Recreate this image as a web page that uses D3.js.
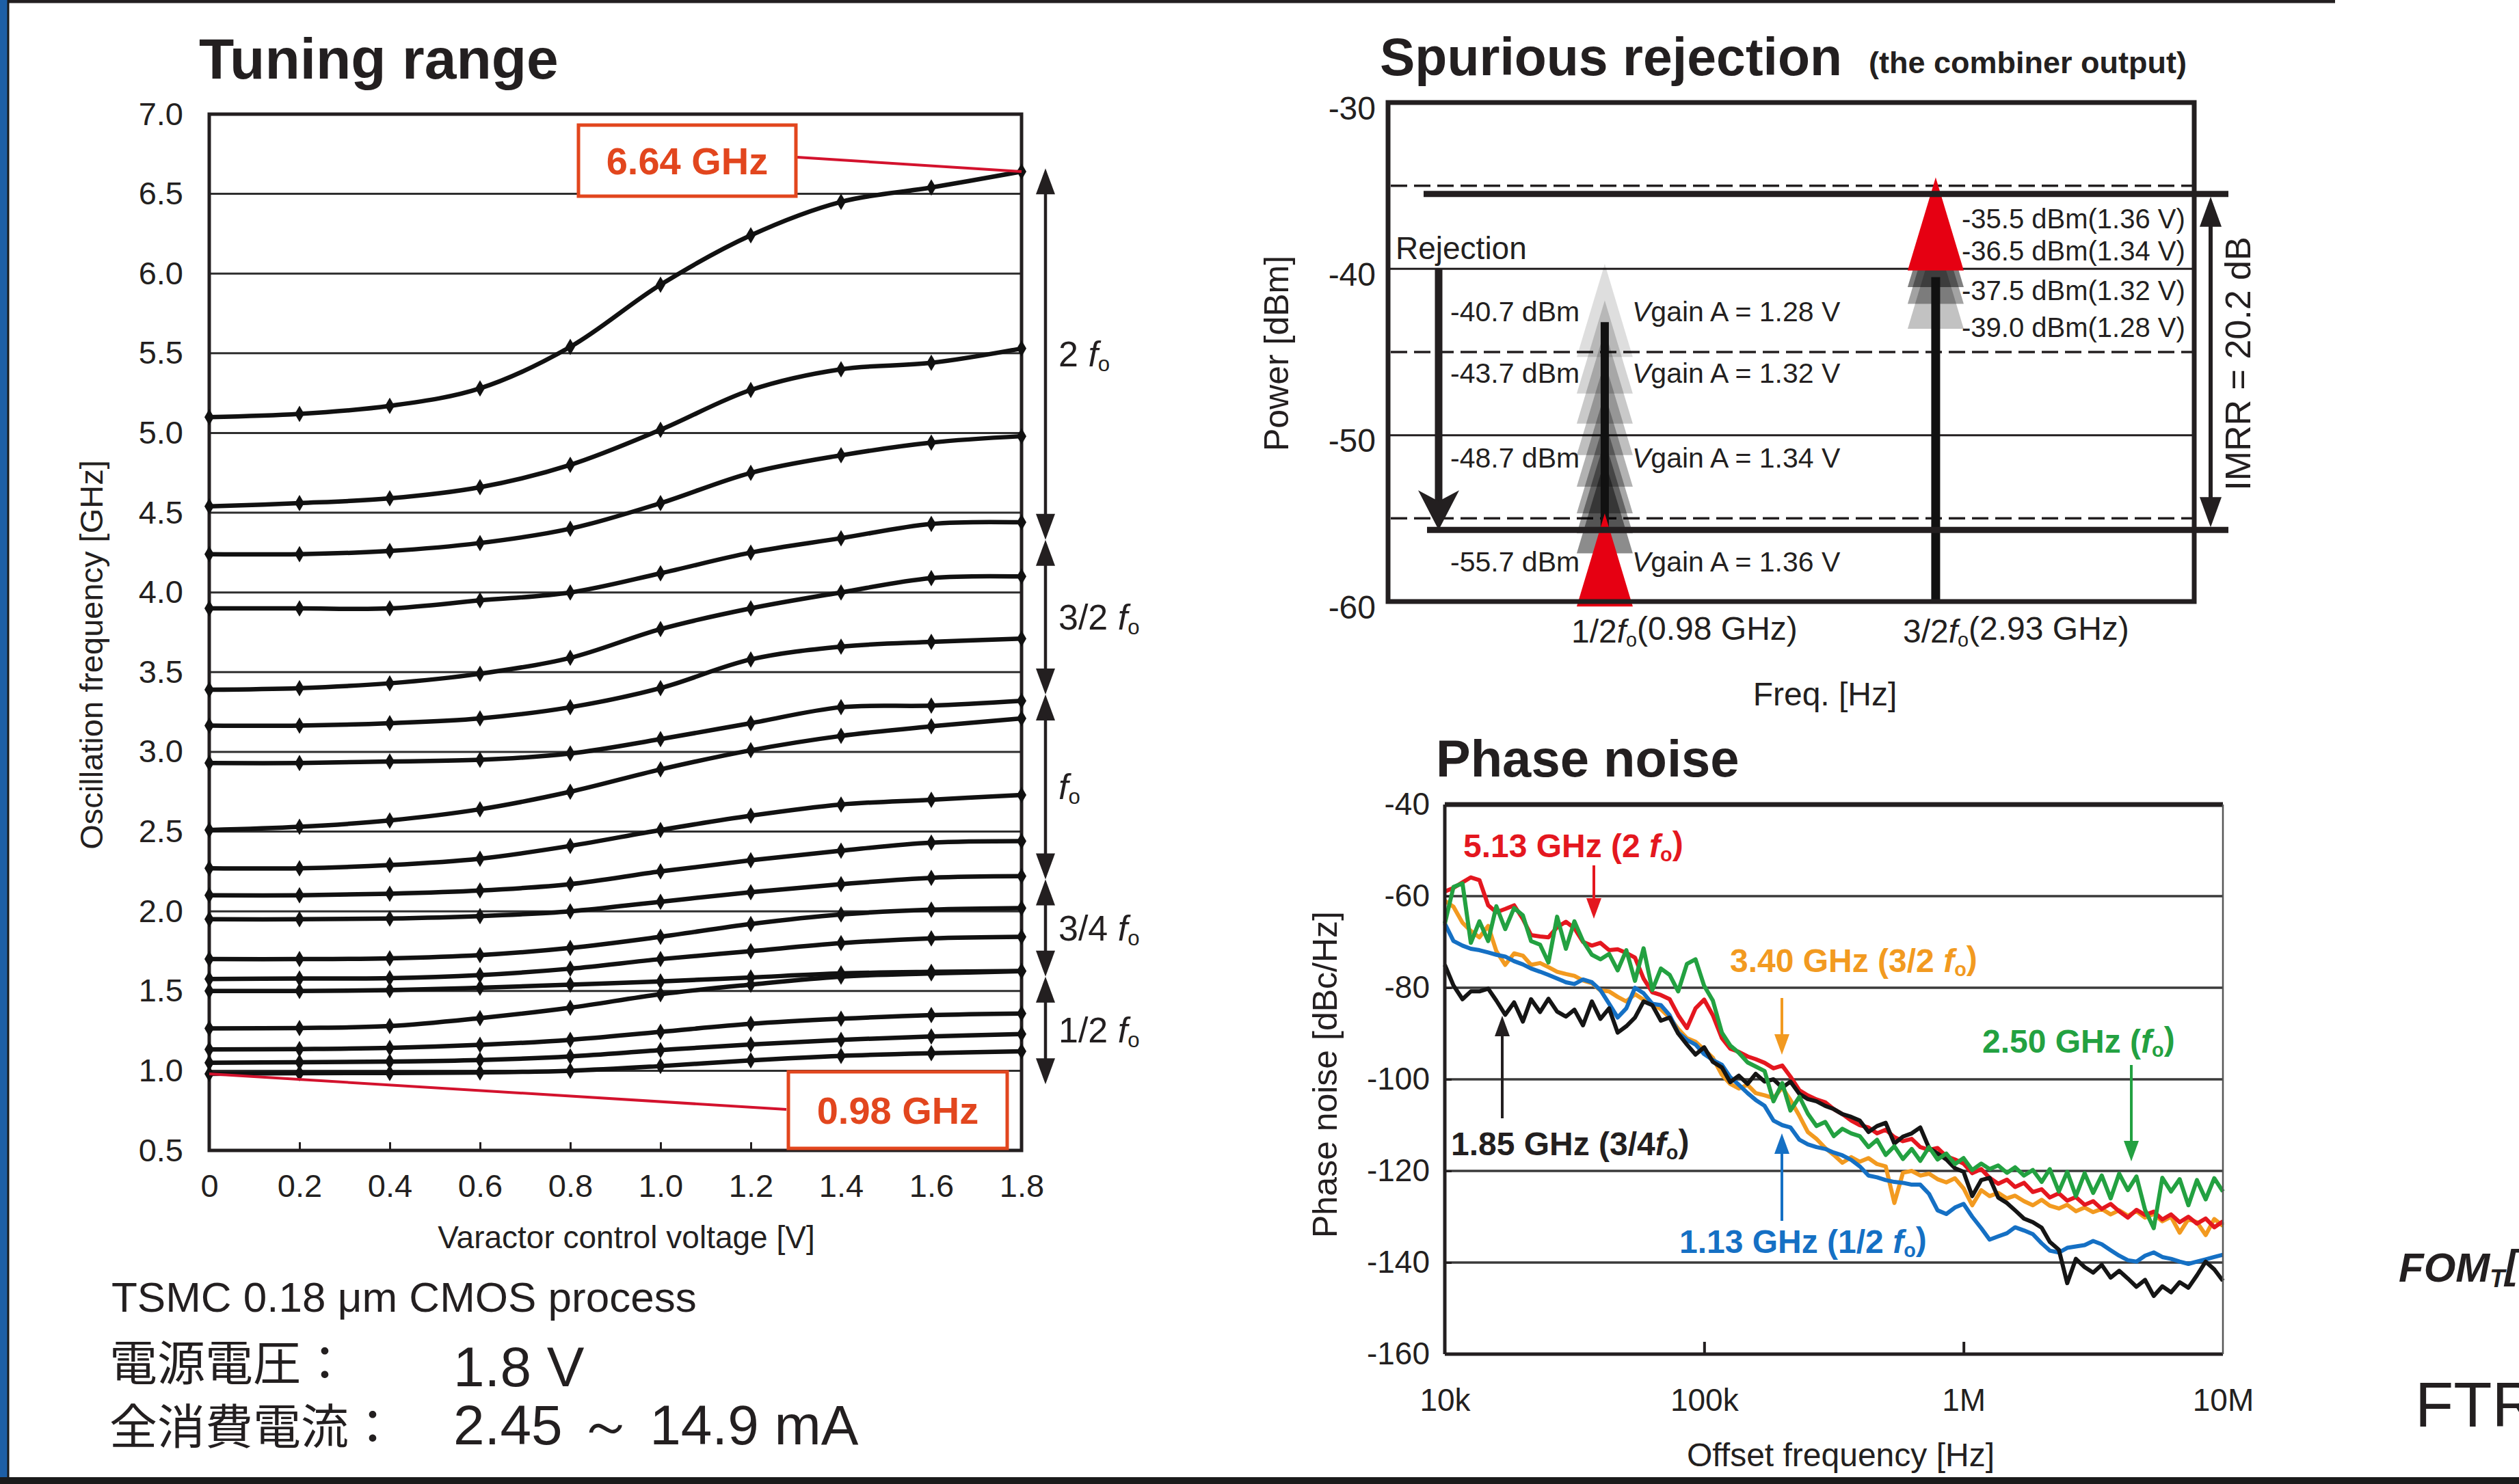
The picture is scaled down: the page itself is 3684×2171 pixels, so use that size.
<!DOCTYPE html>
<html>
<head>
<meta charset="utf-8">
<script src="https://cdn.jsdelivr.net/npm/d3@7"></script>
<style>
  body { margin: 0; background: #fff; }
  svg { display: block; }
  text { font-family: "Liberation Sans", Arial, sans-serif; fill: #231f20; }
</style>
</head>
<body>
<svg id="fig" width="3684" height="2171"></svg>
<script>
// ---------- Tuning range data ----------
const voltages = [0, 0.2, 0.4, 0.6, 0.8, 1.0, 1.2, 1.4, 1.6, 1.8]
const curves2fo = [
  [5.10, 5.12, 5.17, 5.28, 5.54, 5.93, 6.24, 6.45, 6.54, 6.64],
  [4.54, 4.56, 4.59, 4.66, 4.80, 5.02, 5.27, 5.40, 5.44, 5.53],
  [4.24, 4.24, 4.26, 4.31, 4.40, 4.56, 4.75, 4.86, 4.94, 4.98]
]
const curves3_2fo = [
  [3.90, 3.90, 3.90, 3.95, 4.00, 4.12, 4.25, 4.34, 4.43, 4.44],
  [3.39, 3.40, 3.43, 3.49, 3.59, 3.77, 3.90, 4.00, 4.09, 4.10],
  [3.165, 3.165, 3.18, 3.21, 3.28, 3.40, 3.58, 3.66, 3.69, 3.71]
]
const curvesFo = [
  [2.93, 2.93, 2.94, 2.95, 2.99, 3.08, 3.18, 3.28, 3.29, 3.32],
  [2.51, 2.53, 2.57, 2.64, 2.75, 2.89, 3.01, 3.10, 3.16, 3.21],
  [2.27, 2.27, 2.29, 2.33, 2.41, 2.51, 2.60, 2.67, 2.70, 2.73],
  [2.10, 2.10, 2.11, 2.13, 2.17, 2.25, 2.32, 2.38, 2.43, 2.44]
]
const curves3_4fo = [
  [1.95, 1.95, 1.955, 1.97, 2.00, 2.06, 2.12, 2.17, 2.21, 2.22],
  [1.70, 1.70, 1.705, 1.725, 1.77, 1.84, 1.92, 1.98, 2.01, 2.02],
  [1.575, 1.578, 1.58, 1.60, 1.64, 1.70, 1.75, 1.80, 1.83, 1.84],
  [1.50, 1.50, 1.505, 1.52, 1.54, 1.56, 1.585, 1.61, 1.62, 1.625]
]
const curves1_2fo = [
  [1.265, 1.268, 1.28, 1.33, 1.395, 1.48, 1.54, 1.59, 1.61, 1.624],
  [1.133, 1.136, 1.143, 1.162, 1.194, 1.244, 1.294, 1.326, 1.349, 1.359],
  [1.05, 1.053, 1.057, 1.067, 1.09, 1.129, 1.165, 1.194, 1.215, 1.23],
  [0.98, 0.985, 0.986, 0.989, 1.0, 1.029, 1.065, 1.093, 1.11, 1.122]
]
const tuneYTicks = [0.5, 1.0, 1.5, 2.0, 2.5, 3.0, 3.5, 4.0, 4.5, 5.0, 5.5, 6.0, 6.5, 7.0]
const tuneGrid = [1.0, 1.5, 2.0, 2.5, 3.0, 3.5, 4.0, 4.5, 5.0, 5.5, 6.0, 6.5]
const bandEdges = [6.66, 4.33, 3.36, 2.20, 1.59, 0.915]
const bandNames = ["2 ", "3/2 ", "", "3/4 ", "1/2 "]

// ---------- Spurious rejection data ----------
const tones = ["half", "threeHalf"]
const spurYTicks = [-30, -40, -50, -60]
const spurSolid = [-40, -50]
const spurDashed = [-35, -45, -55]
const halfLevels = [-40.7, -43.7, -48.7, -55.7]
const halfVgain = ["1.28", "1.32", "1.34", "1.36"]
const halfGhost = [-40.7, -42.9, -44.7, -46.6, -48.5, -50.1, -51.3, -52.5]
const halfGhostAlpha = [0.13, 0.17, 0.21, 0.25, 0.3, 0.35, 0.4, 0.45]
const threeHalfLevels = [-35.5, -36.5, -37.5, -39.0]
const threeHalfVgain = ["1.36", "1.34", "1.32", "1.28"]
const threeHalfGhost = [-36.5, -37.5, -39.0]
const threeHalfGhostAlpha = [0.5, 0.36, 0.24]
const imrr = 20.2

// ---------- Phase noise data ----------
const offsetHz = [
  1.00e4, 1.08e4, 1.17e4, 1.26e4, 1.36e4, 1.47e4, 1.58e4, 1.71e4, 1.85e4, 2.00e4,
  2.15e4, 2.33e4, 2.51e4, 2.71e4, 2.93e4, 3.16e4, 3.41e4, 3.69e4, 3.98e4, 4.30e4,
  4.64e4, 5.01e4, 5.41e4, 5.84e4, 6.31e4, 6.81e4, 7.36e4, 7.94e4, 8.58e4, 9.26e4,
  1.00e5, 1.08e5, 1.17e5, 1.26e5, 1.36e5, 1.47e5, 1.58e5, 1.71e5, 1.85e5, 2.00e5,
  2.15e5, 2.33e5, 2.51e5, 2.71e5, 2.93e5, 3.16e5, 3.41e5, 3.69e5, 3.98e5, 4.30e5,
  4.64e5, 5.01e5, 5.41e5, 5.84e5, 6.31e5, 6.81e5, 7.36e5, 7.94e5, 8.58e5, 9.26e5,
  1.00e6, 1.08e6, 1.17e6, 1.26e6, 1.36e6, 1.47e6, 1.58e6, 1.71e6, 1.85e6, 2.00e6,
  2.15e6, 2.33e6, 2.51e6, 2.71e6, 2.93e6, 3.16e6, 3.41e6, 3.69e6, 3.98e6, 4.30e6,
  4.64e6, 5.01e6, 5.41e6, 5.84e6, 6.31e6, 6.81e6, 7.36e6, 7.94e6, 8.58e6, 9.26e6,
  1.00e7
]
const pn513 = [
  -59, -58.2, -57, -55.9, -56.5, -62, -63.5, -62.8, -62, -65,
  -68.5, -68.8, -69, -66.8, -65.6, -67, -70, -70.8, -70.2, -71.8,
  -71.6, -72.4, -73.4, -78, -81, -81.6, -82.5, -86, -88.8, -84.5,
  -82.6, -86, -91, -93.3, -94, -95, -95.6, -96.4, -97.6, -97,
  -99.4, -102.4, -103.5, -104.4, -105, -106.5, -107.6, -109, -110, -110.5,
  -111.8, -111, -112.6, -113.5, -113, -114.8, -115.4, -115, -116.8, -117.5,
  -118.4, -120.5, -119.6, -121.5, -122.8, -121.9, -123.5, -122.6, -124.6, -124,
  -125.8, -124.9, -126.5, -125.7, -127.4, -126.6, -128.3, -127.2, -128.8, -130.2,
  -128.5, -129.6, -128.9, -130.6, -129.5, -131.2, -130, -131.5, -130.4, -132.3,
  -131
]
const pn340 = [
  -61, -62.3, -65.8, -67.6, -69, -66.5, -72, -75, -72.5, -73,
  -75, -74.6, -75.5, -76.5, -77, -77.4, -78.4, -79, -80.6, -80.8,
  -82, -83, -81.4, -82.6, -83.5, -84.7, -86.5, -89, -91, -91.8,
  -93.5, -95.3, -99, -101, -102, -101.2, -103, -103.5, -104.1, -101.8,
  -104.5, -108, -111.5, -113, -115, -116.5, -118.2, -117, -118, -117.2,
  -118.5, -119, -127, -120.4, -120, -121, -120.6, -121.8, -122.5, -121.6,
  -123.8, -127.5, -124.2, -125.5, -124.8, -126, -125.4, -126.6, -127.5, -126.3,
  -127.6, -128.2, -127.4, -128.8, -128, -129, -128.3, -129.5, -128.6, -129.8,
  -128.8, -130.2, -129.4, -131, -130, -133.5, -130.5, -131.2, -134, -130.5,
  -132
]
const pn113 = [
  -66, -69.8, -70.8, -71.5, -71.8, -72.3, -72.8, -73.2, -74.2, -74.9,
  -75.8, -76.5, -77.2, -78, -78.8, -79.2, -78.2, -78.8, -80.5, -83.5,
  -86.5, -84.5, -80, -81.2, -83.5, -83.8, -86, -89.8, -91.4, -92.4,
  -94.5, -95.8, -96.8, -99.5, -101.2, -103, -104.5, -105.8, -109, -110,
  -110.5, -113.2, -114.2, -114.8, -115.2, -116, -116.6, -117.6, -119, -121,
  -121.4, -122, -122.4, -122.6, -123, -123, -125, -128.6, -129.4, -128,
  -127.2, -130, -132.5, -135, -134.3, -133.6, -132.3, -133, -133.8, -135.8,
  -137.4, -137.8, -136.8, -136.5, -136.2, -135.3, -136, -137.3, -138.5, -139.5,
  -139.8, -138.5, -137.8, -138.8, -139.2, -139.8, -140.3, -139.8, -139.3, -138.8,
  -138.3
]
const pn185 = [
  -75, -79.5, -82.5, -80.8, -80.8, -80.2, -82.8, -85.9, -83.2, -87.4,
  -82.5, -85.3, -82.4, -85.2, -86.3, -84.8, -88.2, -83, -86.8, -84.5,
  -89.8, -88.4, -86.5, -83, -83.8, -87.2, -86.5, -90, -92.4, -94.6,
  -93, -96.2, -97.4, -100.6, -99.2, -101, -98.8, -100.5, -100, -101.8,
  -100.5, -103.2, -104.3, -104.8, -105.8, -106.5, -107.6, -108.2, -109, -111.5,
  -110.2, -109.5, -114, -112.5, -111.8, -110.5, -115, -116.2, -117.5, -119.4,
  -120.2, -125.5, -122, -121.5, -125.8, -127, -128.6, -130.4, -131.2, -132.4,
  -135.5, -137.2, -144.5, -139.2, -141, -142.2, -140.5, -143.3, -141.8, -143.5,
  -145.3, -143.8, -147.3, -145.2, -146.5, -144.3, -145.5, -142.8, -139.8, -141.5,
  -144
]
const pn250 = [
  -66, -58, -57.2, -70.2, -65.5, -69.8, -62.2, -67.2, -62.6, -64.2,
  -69.8, -70.6, -74.5, -64.5, -71.5, -65.5, -69.8, -72.8, -73.8, -72.6,
  -76.2, -71.8, -78.5, -71.4, -80.5, -75.8, -77.2, -80.8, -74.8, -73.8,
  -79.6, -82.8, -89.8, -92.6, -94.2, -96.3, -97.2, -98.2, -104.8, -100.8,
  -106.8, -103.8, -107.5, -110.2, -109.3, -112.4, -110.8, -111.8, -112.4, -114.8,
  -113.2, -116.5, -114.6, -117.4, -115.2, -117.8, -114.8, -117.5, -116.2, -118.5,
  -117.2, -119.8, -118.4, -119.6, -118.8, -120.4, -119.2, -121, -119.8, -122.4,
  -119.6, -124.5, -120.2, -125.5, -120.5, -124.8, -121, -126, -120.6, -124.2,
  -121.2, -128.5, -132.5, -121.5, -124.5, -121.8, -127.5, -122, -126.2, -121.6,
  -124.5
]
const pnYTicks = [-40, -60, -80, -100, -120, -140, -160]
const pnGrid = [-60, -80, -100, -120, -140]
const pnXTicks = [1e4, 1e5, 1e6, 1e7]
const pnXLabels = ["10k", "100k", "1M", "10M"]

// ---------- helpers ----------
const ink = "#231f20"
const svg = d3.select("#fig")
const plain = d => String(d)   // keep the hyphen minus of the original

function rich(sel, parts) {
  // parts: [text, kind] with kind "", "it", "sub" (drop) or "up" (back to baseline)
  parts.forEach(([t, kind]) => {
    const s = sel.append("tspan").text(t)
    if (kind === "it") s.attr("font-style", "italic")
    if (kind === "sub") s.attr("font-size", "0.6em").attr("dy", "0.22em")
    if (kind === "up") s.attr("dy", "-0.22em")
  })
  return sel
}

function label(g, x, y, str, size, opts = {}) {
  const t = g.append("text")
    .attr("x", x).attr("y", y)
    .attr("font-size", size)
    .attr("text-anchor", opts.anchor || "start")
    .attr("font-weight", opts.weight || "normal")
  if (opts.fill) t.style("fill", opts.fill)
  if (opts.family) t.style("font-family", opts.family)
  if (opts.rotate) t.attr("transform", `rotate(-90, ${x}, ${y})`)
  if (Array.isArray(str)) rich(t, str)
  else t.text(str)
  return t
}

// vertical arrow: line from y1 to tip at y2
function vArrow(g, x, y1, y2, color, w, headW, headL) {
  const dir = y2 > y1 ? 1 : -1
  g.append("line").attr("x1", x).attr("x2", x)
    .attr("y1", y1).attr("y2", y2 - dir * headL * 0.8)
    .attr("stroke", color).attr("stroke-width", w)
  g.append("path")
    .attr("d", `M${x},${y2} L${x - headW / 2},${y2 - dir * headL} L${x + headW / 2},${y2 - dir * headL} Z`)
    .attr("fill", color)
}

// ---------- page frame ----------
svg.append("rect").attr("width", 3684).attr("height", 2171).attr("fill", "#fff")
svg.append("line").attr("x1", 0).attr("x2", 3415).attr("y1", 2).attr("y2", 2)
  .attr("stroke", ink).attr("stroke-width", 5)
svg.append("rect").attr("x", 0).attr("y", 0).attr("width", 11).attr("height", 2171).attr("fill", "#1d5fa6")
svg.append("line").attr("x1", 12).attr("x2", 12).attr("y1", 0).attr("y2", 2171)
  .attr("stroke", "#1a1a1a").attr("stroke-width", 3)
svg.append("rect").attr("x", 0).attr("y", 2161).attr("width", 3684).attr("height", 10).attr("fill", "#1b1b1b")

// ================= Tuning range =================
const tx = d3.scaleLinear([0, 1.8], [306, 1494])
const ty = d3.scaleLinear([0.5, 7.0], [1683, 167])
const gT = svg.append("g")

label(gT, 291, 115, "Tuning range", 84, { weight: "bold" })

gT.selectAll(".tgrid").data(tuneGrid).join("line")
  .attr("x1", tx(0)).attr("x2", tx(1.8))
  .attr("y1", d => ty(d)).attr("y2", d => ty(d))
  .attr("stroke", "#2e2e2e").attr("stroke-width", 3)

const txAxis = gT.append("g").attr("transform", `translate(0, ${ty(0.5)})`)
  .call(d3.axisBottom(tx).tickValues(voltages).tickSize(-12).tickPadding(35)
    .tickFormat(d => d === 0 ? "0" : d3.format(".1f")(d)))
txAxis.select(".domain").remove()
txAxis.selectAll("line").attr("stroke", ink).attr("stroke-width", 3)
txAxis.selectAll("text").attr("font-size", 47).style("font-family", "Liberation Sans, Arial")

const tyAxis = gT.append("g").attr("transform", `translate(${tx(0)}, 0)`)
  .call(d3.axisLeft(ty).tickValues(tuneYTicks).tickSize(0).tickPadding(38).tickFormat(d3.format(".1f")))
tyAxis.select(".domain").remove()
tyAxis.selectAll("text").attr("font-size", 47).style("font-family", "Liberation Sans, Arial")

gT.append("rect").attr("x", tx(0)).attr("y", ty(7)).attr("width", tx(1.8) - tx(0)).attr("height", ty(0.5) - ty(7))
  .attr("fill", "none").attr("stroke", ink).attr("stroke-width", 5)

label(gT, 150, 958, "Oscillation frequency [GHz]", 47, { anchor: "middle", rotate: true })
label(gT, 916, 1826, "Varactor control voltage [V]", 46, { anchor: "middle" })

const allCurves = [...curves2fo, ...curves3_2fo, ...curvesFo, ...curves3_4fo, ...curves1_2fo]
const tline = d3.line().x((d, i) => tx(voltages[i])).y(d => ty(d)).curve(d3.curveCatmullRom.alpha(0.5))
gT.selectAll(".tcurve").data(allCurves).join("path")
  .attr("d", tline).attr("fill", "none").attr("stroke", "#111").attr("stroke-width", 6.5)

const diamond = "M0,-12 L7,0 L0,12 L-7,0 Z"
allCurves.forEach(c => {
  gT.selectAll(null).data(c).join("path")
    .attr("d", diamond)
    .attr("transform", (d, i) => `translate(${tx(voltages[i])}, ${ty(d)})`)
    .attr("fill", "#111")
})

// bracket arrows on the right
const bx = 1529
bandEdges.slice(0, -1).forEach((top, i) => {
  const bot = bandEdges[i + 1]
  const y1 = ty(top), y2 = ty(bot)
  gT.append("line").attr("x1", bx).attr("x2", bx).attr("y1", y1 + 20).attr("y2", y2 - 20)
    .attr("stroke", ink).attr("stroke-width", 4.5)
  gT.append("path").attr("d", `M${bx},${y1} L${bx - 14},${y1 + 38} L${bx + 14},${y1 + 38} Z`).attr("fill", ink)
  gT.append("path").attr("d", `M${bx},${y2} L${bx - 14},${y2 - 38} L${bx + 14},${y2 - 38} Z`).attr("fill", ink)
  const parts = bandNames[i] ? [[bandNames[i], ""], ["f", "it"], ["o", "sub"]] : [["f", "it"], ["o", "sub"]]
  label(gT, 1548, (y1 + y2) / 2 + 18, parts, 52)
})

// value call-outs
const callRed = "#e2461e"
const leadRed = "#d3122d"
gT.append("line").attr("x1", 1166).attr("y1", 230).attr("x2", tx(1.8)).attr("y2", ty(6.64))
  .attr("stroke", leadRed).attr("stroke-width", 4)
gT.append("rect").attr("x", 846).attr("y", 183).attr("width", 318).attr("height", 104)
  .attr("fill", "#fff").attr("stroke", callRed).attr("stroke-width", 5)
label(gT, 1005, 255, "6.64 GHz", 56, { anchor: "middle", weight: "bold", fill: callRed })

gT.append("line").attr("x1", tx(0)).attr("y1", ty(0.98)).attr("x2", 1150).attr("y2", 1623)
  .attr("stroke", leadRed).attr("stroke-width", 4)
gT.append("rect").attr("x", 1153).attr("y", 1568).attr("width", 320).attr("height", 112)
  .attr("fill", "#fff").attr("stroke", callRed).attr("stroke-width", 5)
label(gT, 1313, 1644, "0.98 GHz", 56, { anchor: "middle", weight: "bold", fill: callRed })

// notes under the chart
label(gT, 163, 1919, "TSMC 0.18 \u03bcm CMOS process", 62)
const cjk = "'Noto Sans CJK JP', sans-serif"
label(gT, 160, 2020, "電源電圧：", 70, { family: cjk })
label(gT, 663, 2028, "1.8 V", 82)
label(gT, 160, 2113, "全消費電流：", 70, { family: cjk })
label(gT, 663, 2113, "2.45 \uff5e 14.9 mA", 82)

// ================= Spurious rejection =================
const sy = d3.scaleLinear([-60, -30], [880, 150])
const sx = d3.scalePoint().domain(tones).range([2030, 3209]).padding(0.718).align(0.456)
const gS = svg.append("g")

label(gS, 2018, 110, "Spurious rejection", 77, { weight: "bold" })
label(gS, 2733, 107, "(the combiner output)", 45, { weight: "bold" })

gS.selectAll(".sgrid").data(spurSolid).join("line")
  .attr("x1", 2030).attr("x2", 3209).attr("y1", d => sy(d)).attr("y2", d => sy(d))
  .attr("stroke", ink).attr("stroke-width", 3)
gS.selectAll(".sdash").data(spurDashed).join("line")
  .attr("x1", 2034).attr("x2", 3209).attr("y1", d => sy(d)).attr("y2", d => sy(d))
  .attr("stroke", ink).attr("stroke-width", 3.5).attr("stroke-dasharray", "24,10")

const syAxis = gS.append("g").attr("transform", "translate(2030, 0)")
  .call(d3.axisLeft(sy).tickValues(spurYTicks).tickSize(0).tickPadding(18).tickFormat(plain))
syAxis.select(".domain").remove()
syAxis.selectAll("text").attr("font-size", 48).attr("dy", "0.5em").style("font-family", "Liberation Sans, Arial")

label(gS, 1884, 517, "Power [dBm]", 50, { anchor: "middle", rotate: true })
label(gS, 2669, 1032, "Freq. [Hz]", 48, { anchor: "middle" })

// tone triangles: apex 1 dB above level, base 4.6 dB below
const tri = (x, lvl) => `M${x},${sy(lvl + 1.0)} L${x - 41},${sy(lvl - 4.6)} L${x + 41},${sy(lvl - 4.6)} Z`
const xHalf = sx("half"), x3Half = sx("threeHalf")

gS.selectAll(".ghostH").data(halfGhost).join("path")
  .attr("d", d => tri(xHalf, d)).attr("fill", "#000")
  .attr("fill-opacity", (d, i) => halfGhostAlpha[i])
gS.append("line").attr("x1", xHalf).attr("x2", xHalf).attr("y1", sy(-43.2)).attr("y2", sy(-57))
  .attr("stroke", "#111").attr("stroke-width", 12)
gS.append("path").attr("d", tri(xHalf, halfLevels[3])).attr("fill", "#e60012")

gS.selectAll(".ghost3").data(threeHalfGhost).join("path")
  .attr("d", d => tri(x3Half, d)).attr("fill", "#000")
  .attr("fill-opacity", (d, i) => threeHalfGhostAlpha[i])
gS.append("line").attr("x1", x3Half).attr("x2", x3Half).attr("y1", sy(-60)).attr("y2", sy(-40.5))
  .attr("stroke", "#111").attr("stroke-width", 13)
gS.append("path").attr("d", tri(x3Half, threeHalfLevels[0])).attr("fill", "#e60012")

// thick level lines
gS.selectAll(".lvl").data([threeHalfLevels[0], halfLevels[3]]).join("line")
  .attr("x1", (d, i) => i ? 2087 : 2082).attr("x2", 3259)
  .attr("y1", d => sy(d)).attr("y2", d => sy(d))
  .attr("stroke", ink).attr("stroke-width", 9)

gS.append("rect").attr("x", 2030).attr("y", 150).attr("width", 1179).attr("height", 730)
  .attr("fill", "none").attr("stroke", ink).attr("stroke-width", 7)

// rejection arrow
label(gS, 2041, 379, "Rejection", 46)
gS.append("line").attr("x1", 2104).attr("x2", 2104).attr("y1", sy(-40)).attr("y2", sy(-54))
  .attr("stroke", ink).attr("stroke-width", 11)
gS.append("path").attr("d", `M2104,${sy(halfLevels[3])} L2074,${sy(halfLevels[3]) - 58} L2104,${sy(halfLevels[3]) - 42} L2134,${sy(halfLevels[3]) - 58} Z`)
  .attr("fill", ink)

// IMRR double arrow
const ix = 3233
gS.append("line").attr("x1", ix).attr("x2", ix).attr("y1", sy(threeHalfLevels[0]) + 30).attr("y2", sy(halfLevels[3]) - 30)
  .attr("stroke", ink).attr("stroke-width", 6)
gS.append("path").attr("d", `M${ix},${sy(threeHalfLevels[0]) + 4} L${ix - 16},${sy(threeHalfLevels[0]) + 48} L${ix + 16},${sy(threeHalfLevels[0]) + 48} Z`).attr("fill", ink)
gS.append("path").attr("d", `M${ix},${sy(halfLevels[3]) - 4} L${ix - 16},${sy(halfLevels[3]) - 48} L${ix + 16},${sy(halfLevels[3]) - 48} Z`).attr("fill", ink)
label(gS, 3291, 532, `IMRR = ${imrr} dB`, 52, { anchor: "middle", rotate: true })

// level labels
const halfLabelY = [470, 560, 684, 836]
halfLevels.forEach((lv, i) => {
  label(gS, 2121, halfLabelY[i], `${lv.toFixed(1)} dBm`, 41)
  label(gS, 2387, halfLabelY[i], [["V", "it"], [`gain A = ${halfVgain[i]} V`, ""]], 41)
})
const threeLabelY = [334, 381, 439, 493]
threeHalfLevels.forEach((lv, i) => {
  label(gS, 2869, threeLabelY[i], `${lv.toFixed(1)} dBm(${threeHalfVgain[i]} V)`, 40)
})

label(gS, 2298, 940, [["1/2", ""], ["f", "it"], ["o", "sub"], ["(0.98 GHz)", "up"]], 48)
label(gS, 2783, 940, [["3/2", ""], ["f", "it"], ["o", "sub"], ["(2.93 GHz)", "up"]], 48)

// ================= Phase noise =================
const px = d3.scaleLog([1e4, 1e7], [2113, 3251])
const py = d3.scaleLinear([-160, -40], [1981, 1177])
const gP = svg.append("g")

label(gP, 2100, 1136, "Phase noise", 76, { weight: "bold" })

gP.selectAll(".pgrid").data(pnGrid).join("line")
  .attr("x1", px(1e4)).attr("x2", px(1e7)).attr("y1", d => py(d)).attr("y2", d => py(d))
  .attr("stroke", "#3a3a3a").attr("stroke-width", 3.5)

const pxTicks = gP.append("g").attr("transform", `translate(0, ${py(-160)})`)
  .call(d3.axisBottom(px).tickValues([1e5, 1e6]).tickSize(-18).tickFormat(""))
pxTicks.select(".domain").remove()
pxTicks.selectAll("line").attr("stroke", ink).attr("stroke-width", 4)

const pxAxis = gP.append("g").attr("transform", `translate(0, ${py(-160)})`)
  .call(d3.axisBottom(px).tickValues(pnXTicks).tickSize(0).tickPadding(50)
    .tickFormat((d, i) => pnXLabels[i]))
pxAxis.select(".domain").remove()
pxAxis.selectAll("text").attr("font-size", 46).style("font-family", "Liberation Sans, Arial")

const pyAxis = gP.append("g").attr("transform", `translate(${px(1e4)}, 0)`)
  .call(d3.axisLeft(py).tickValues(pnYTicks).tickSize(-10).tickPadding(22).tickFormat(plain))
pyAxis.select(".domain").remove()
pyAxis.selectAll("line").attr("stroke", ink).attr("stroke-width", 3)
pyAxis.selectAll("text").attr("font-size", 46).style("font-family", "Liberation Sans, Arial")

label(gP, 1955, 1572, "Phase noise [dBc/Hz]", 50, { anchor: "middle", rotate: true })
label(gP, 2692, 2145, "Offset frequency [Hz]", 48, { anchor: "middle" })

const pline = d3.line().x((d, i) => px(offsetHz[i])).y(d => py(d))
const pnSeries = [
  { v: pn340, c: "#f29a20" },
  { v: pn513, c: "#e4171f" },
  { v: pn113, c: "#1570c4" },
  { v: pn185, c: "#151515" },
  { v: pn250, c: "#23a141" }
]
gP.selectAll(".pn").data(pnSeries).join("path")
  .attr("d", d => pline(d.v)).attr("fill", "none")
  .attr("stroke", d => d.c).attr("stroke-width", 6).attr("stroke-linejoin", "round")

// frame
gP.append("line").attr("x1", px(1e4)).attr("x2", px(1e7)).attr("y1", py(-40)).attr("y2", py(-40))
  .attr("stroke", ink).attr("stroke-width", 7)
gP.append("line").attr("x1", px(1e4)).attr("x2", px(1e7)).attr("y1", py(-160)).attr("y2", py(-160))
  .attr("stroke", ink).attr("stroke-width", 5)
gP.append("line").attr("x1", px(1e4)).attr("x2", px(1e4)).attr("y1", py(-40)).attr("y2", py(-160))
  .attr("stroke", ink).attr("stroke-width", 5)
gP.append("line").attr("x1", px(1e7)).attr("x2", px(1e7)).attr("y1", py(-40)).attr("y2", py(-160))
  .attr("stroke", "#555").attr("stroke-width", 2.5)

// series call-outs
const cRed = "#e4171f", cOr = "#f29a20", cGr = "#23a141", cBl = "#1570c4"
label(gP, 2140, 1254, [["5.13 GHz (2 ", ""], ["f", "it"], ["o", "sub"], [")", "up"]], 48, { weight: "bold", fill: cRed })
vArrow(gP, 2331, 1266, 1344, cRed, 4, 22, 30)
label(gP, 2530, 1422, [["3.40 GHz (3/2 ", ""], ["f", "it"], ["o", "sub"], [")", "up"]], 48, { weight: "bold", fill: cOr })
vArrow(gP, 2606, 1460, 1543, cOr, 4, 22, 30)
label(gP, 2899, 1540, [["2.50 GHz (", ""], ["f", "it"], ["o", "sub"], [")", "up"]], 48, { weight: "bold", fill: cGr })
vArrow(gP, 3117, 1558, 1699, cGr, 4, 22, 30)
label(gP, 2122, 1690, [["1.85 GHz (3/4", ""], ["f", "it"], ["o", "sub"], [")", "up"]], 48, { weight: "bold" })
vArrow(gP, 2197, 1636, 1486, ink, 4, 22, 30)
label(gP, 2456, 1833, [["1.13 GHz (1/2 ", ""], ["f", "it"], ["o", "sub"], [")", "up"]], 48, { weight: "bold", fill: cBl })
vArrow(gP, 2606, 1786, 1658, cBl, 4, 22, 30)

// cropped neighbour text at the right edge
label(svg, 3508, 1875, [["FOM", ""], ["T", "sub"], ["[", "up"]], 60, { weight: "bold" })
  .attr("font-style", "italic")
label(svg, 3532, 2087, "FTR", 92)
</script>
</body>
</html>
